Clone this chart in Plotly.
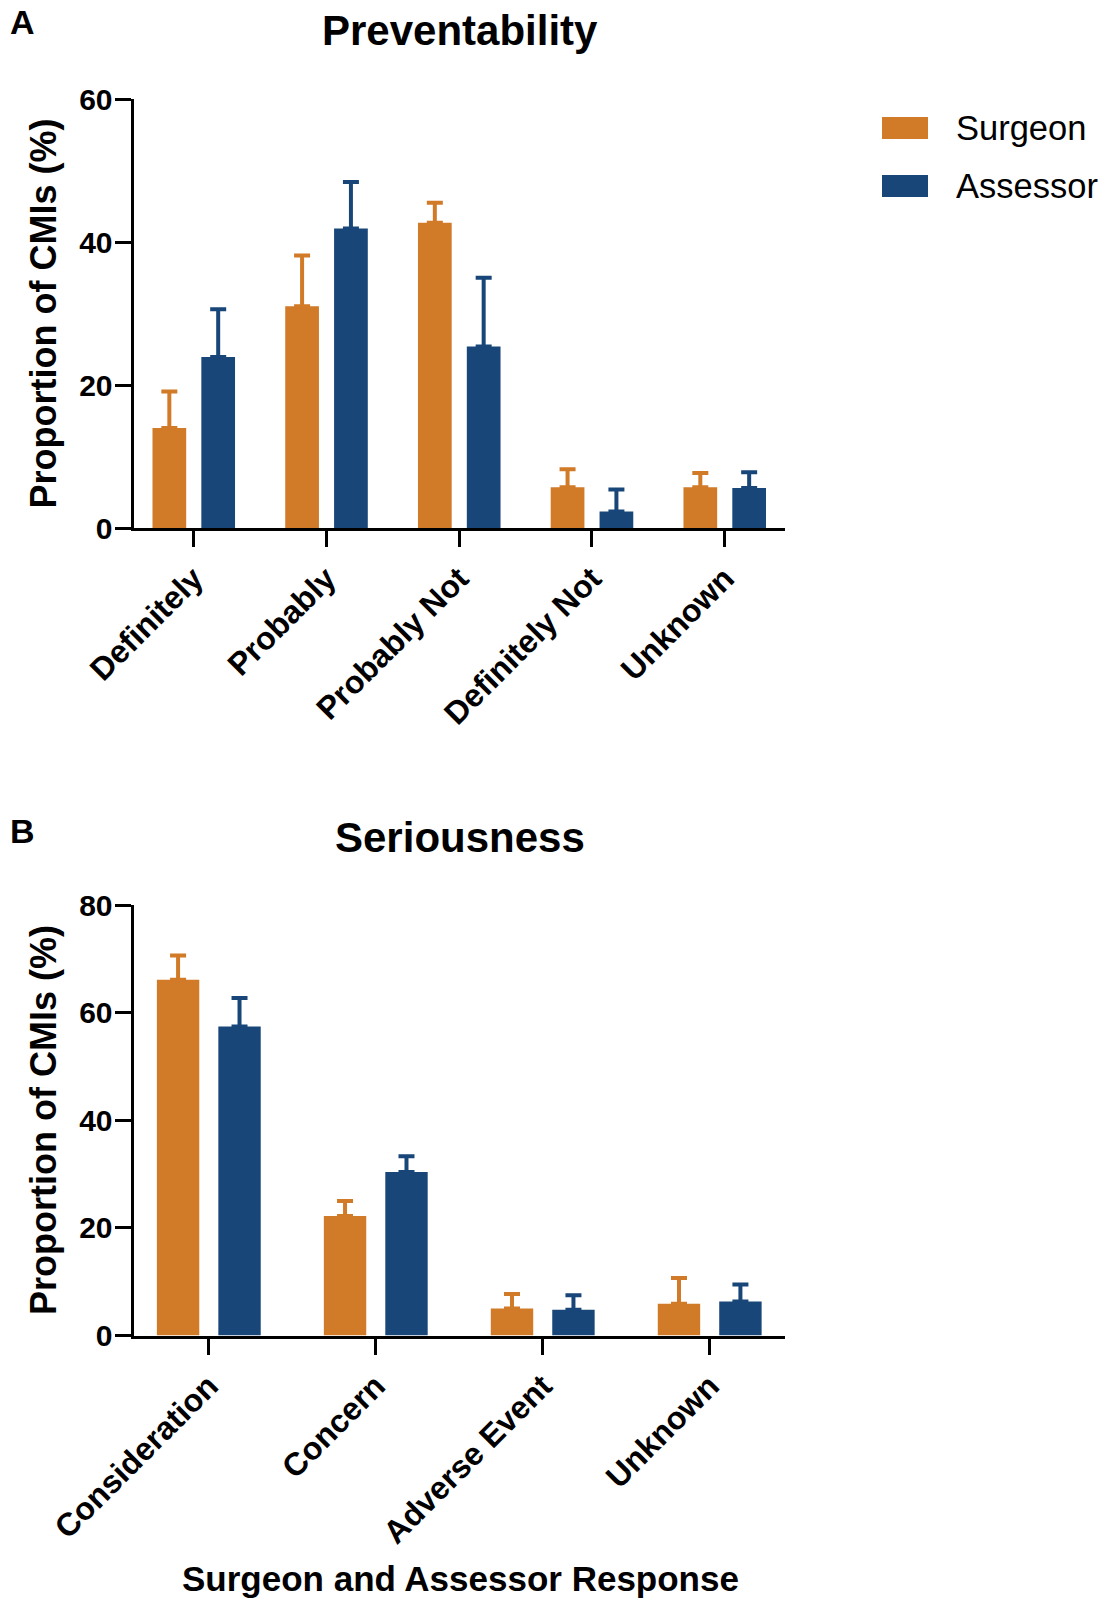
import plotly.graph_objects as go

# ---- data -------------------------------------------------------------
prev_categories = ["Definitely", "Probably", "Probably Not", "Definitely Not", "Unknown"]
prev_surgeon = [14.0, 31.0, 42.7, 5.7, 5.7]
prev_surgeon_err = [5.1, 7.1, 2.8, 2.5, 2.0]
prev_assessor = [23.9, 41.9, 25.4, 2.3, 5.6]
prev_assessor_err = [6.7, 6.5, 9.6, 3.1, 2.2]

ser_categories = ["Consideration", "Concern", "Adverse Event", "Unknown"]
ser_surgeon = [66.1, 22.2, 5.0, 5.9]
ser_surgeon_err = [4.5, 2.8, 2.7, 4.8]
ser_assessor = [57.4, 30.4, 4.8, 6.3]
ser_assessor_err = [5.3, 2.9, 2.7, 3.2]

series_names = ["Surgeon", "Assessor"]
prev_ticks = [0, 20, 40, 60]
ser_ticks = [0, 20, 40, 60, 80]

# ---- style ------------------------------------------------------------
W, H = 1105, 1598
ORANGE = "#D17A28"
BLUE = "#184679"
FONT = "Liberation Sans, Arial, sans-serif"
COLORS = [ORANGE, BLUE]


def px(x):
    return x / W


def py(y):
    return 1 - y / H


fig = go.Figure()


def add_panel(cats, groups, xa, ya):
    for name, color, (vals, errs) in zip(series_names, COLORS, groups):
        fig.add_trace(go.Bar(
            x=cats, y=vals, name=name,
            marker=dict(color=color, line=dict(width=0)),
            error_y=dict(type="data", array=errs, arrayminus=[0] * len(errs),
                         symmetric=False, color=color, thickness=4, width=8),
            xaxis=xa, yaxis=ya, showlegend=False,
        ))


add_panel(prev_categories,
          [(prev_surgeon, prev_surgeon_err), (prev_assessor, prev_assessor_err)],
          "x", "y")
add_panel(ser_categories,
          [(ser_surgeon, ser_surgeon_err), (ser_assessor, ser_assessor_err)],
          "x2", "y2")

axis_common = dict(
    showline=True, linewidth=3, linecolor="black",
    ticks="outside", ticklen=16, tickwidth=3, tickcolor="black",
    showgrid=False, zeroline=False, automargin=False,
)
xfont = dict(family=FONT, size=32, color="black", weight="bold")
yfont = dict(family=FONT, size=30, color="black", weight="bold")

x_domain = [px(133.5), px(785)]

fig.update_layout(
    width=W, height=H,
    margin=dict(l=0, r=0, t=0, b=0, autoexpand=False),
    paper_bgcolor="white", plot_bgcolor="white",
    barmode="group", bargap=0.264, bargroupgap=0.31,
    showlegend=False,
    xaxis=dict(domain=x_domain, anchor="y", type="category",
               range=[-0.454, len(prev_categories) - 1 + 0.454],
               tickangle=-45, tickfont=xfont, **axis_common),
    yaxis=dict(domain=[py(528), py(99)], anchor="x", range=[0, 60],
               tickvals=prev_ticks, tickfont=yfont, ticklabelstandoff=-4,
               **axis_common),
    xaxis2=dict(domain=x_domain, anchor="y2", type="category",
                range=[-0.451, len(ser_categories) - 1 + 0.451],
                tickangle=-45, tickfont=xfont, **axis_common),
    yaxis2=dict(domain=[py(1335.5), py(905)], anchor="x2", range=[0, 80],
                tickvals=ser_ticks, tickfont=yfont, ticklabelstandoff=-4,
                **axis_common),
)

bold = lambda size: dict(family=FONT, size=size, color="black", weight="bold")
annotations = [
    dict(text="A", x=px(22), y=py(22), font=bold(34)),
    dict(text="B", x=px(22), y=py(831), font=bold(34)),
    dict(text="Preventability", x=px(460), y=py(30), font=bold(42)),
    dict(text="Seriousness", x=px(460), y=py(837), font=bold(42)),
    dict(text="Proportion of CMIs (%)", x=px(43), y=py(313.5), textangle=-90,
         font=bold(36)),
    dict(text="Proportion of CMIs (%)", x=px(43), y=py(1120), textangle=-90,
         font=bold(36)),
    dict(text="Surgeon and Assessor Response", x=px(460), y=py(1578),
         font=bold(35)),
]
for a in annotations:
    fig.add_annotation(xref="paper", yref="paper", showarrow=False,
                       xanchor="center", yanchor="middle", **a)

# legend: colour swatches with labels
legend_rows = [(117, 139, 128), (175, 197, 186)]
for name, color, (y0, y1, yc) in zip(series_names, COLORS, legend_rows):
    fig.add_shape(type="rect", xref="paper", yref="paper",
                  x0=px(882), x1=px(928), y0=py(y1), y1=py(y0),
                  fillcolor=color, line=dict(width=0))
    fig.add_annotation(text=name, xref="paper", yref="paper", showarrow=False,
                       x=px(954), y=py(yc), xanchor="left", yanchor="middle",
                       font=dict(family=FONT, size=34.5, color="black"))

fig.write_html("out.html")
